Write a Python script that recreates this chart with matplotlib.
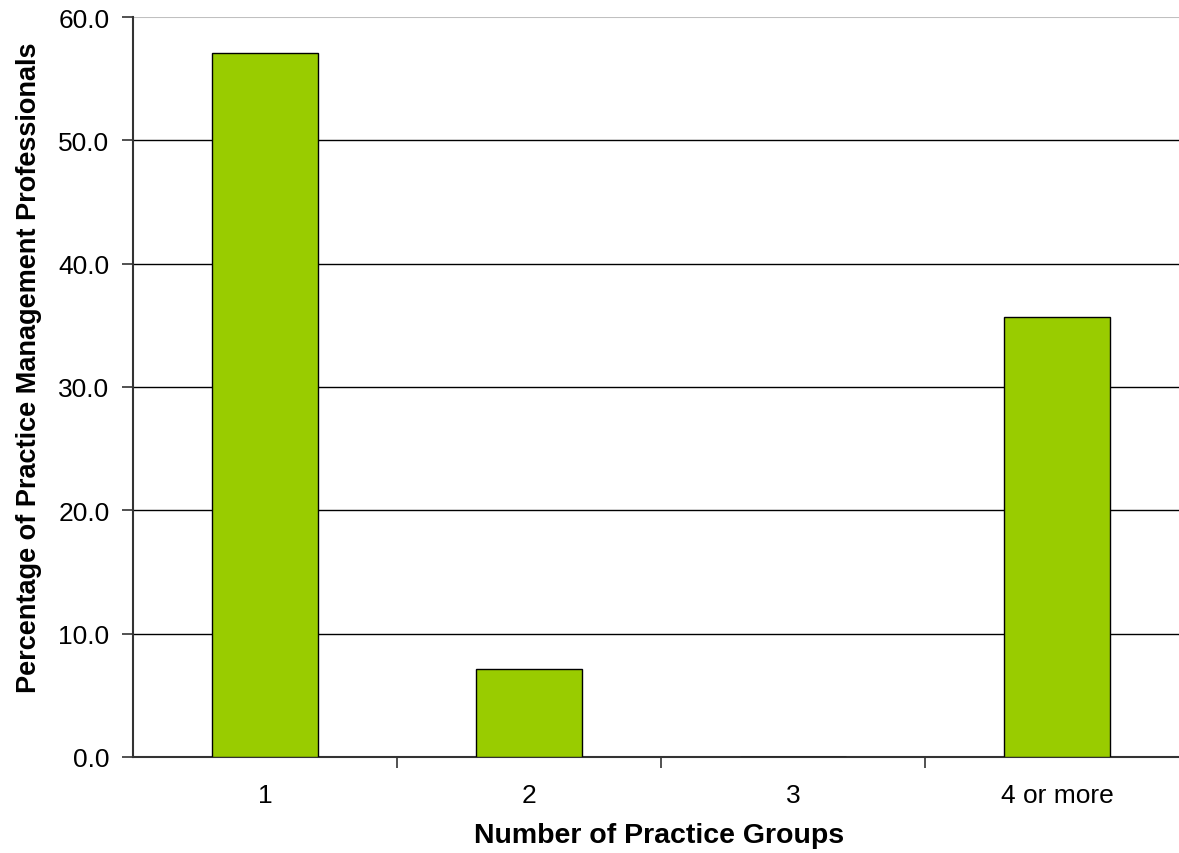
import matplotlib
matplotlib.use("Agg")
import matplotlib.pyplot as plt

categories = ["1", "2", "3", "4 or more"]
percentages = [57.1, 7.1, 0.0, 35.7]
y_ticks = [0, 10, 20, 30, 40, 50, 60]
y_tick_labels = ["0.0", "10.0", "20.0", "30.0", "40.0", "50.0", "60.0"]

plt.rcParams["font.family"] = ["Liberation Sans", "DejaVu Sans"]

W, H = 1179, 854
fig = plt.figure(figsize=(W / 100, H / 100), dpi=100)
left, right, top, bottom = 133, 1189, 18, 758
ax = fig.add_axes([left / W, 1 - bottom / H, (right - left) / W, (bottom - top) / H])

x = list(range(len(categories)))
ax.bar(x, percentages, width=0.405, color="#99CC00", edgecolor="black",
       linewidth=1.0, zorder=3)

ax.set_xlim(-0.5, len(categories) - 0.5)
ax.set_ylim(0, 60)

# horizontal gridlines; the top one is drawn light grey
for t in y_ticks[1:-1]:
    ax.axhline(t, color="black", linewidth=1.0, zorder=1)
ax.axhline(60, color="#c0c0c0", linewidth=1.5, zorder=1)

ax.set_yticks(y_ticks)
ax.set_yticklabels(y_tick_labels)
ax.set_xticks(x)
ax.set_xticklabels(categories)
ax.tick_params(axis="x", length=0, pad=19, labelsize=19)
ax.set_xticks([i + 0.5 for i in x[:-1]], minor=True)
ax.tick_params(axis="x", which="minor", length=8, width=1.2, color="#333333", direction="out")
ax.tick_params(axis="y", length=8, width=1.2, color="#333333", direction="out",
               labelsize=19, pad=9)

for side in ["top", "right"]:
    ax.spines[side].set_visible(False)
ax.spines["left"].set_color("#333333")
ax.spines["left"].set_linewidth(1.5)
ax.spines["bottom"].set_color("#333333")
ax.spines["bottom"].set_linewidth(1.5)

fig.text(659 / W, 1 - 836 / H, "Number of Practice Groups", ha="center", va="center",
         fontsize=20.5, fontweight="bold")
fig.text(29 / W, 1 - 368 / H, "Percentage of Practice Management Professionals",
         ha="center", va="center", rotation=90, fontsize=19.5, fontweight="bold")

fig.savefig("out.png", dpi=100, facecolor="white")
